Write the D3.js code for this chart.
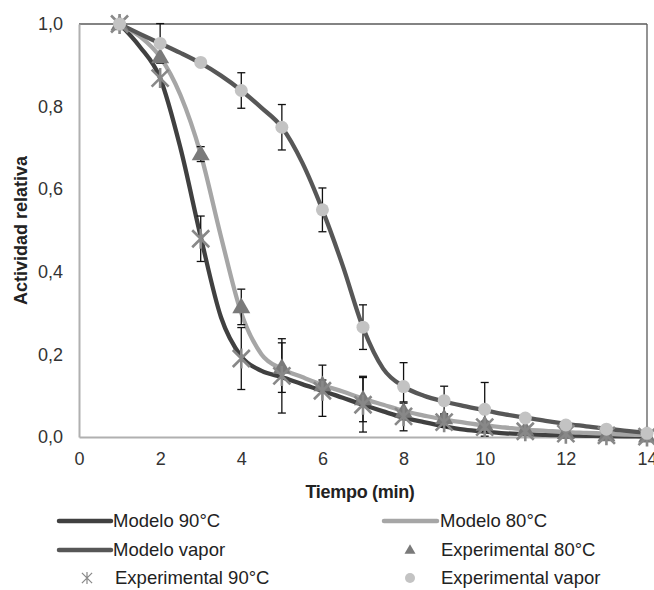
<!DOCTYPE html>
<html>
<head>
<meta charset="utf-8">
<script src="https://cdn.jsdelivr.net/npm/d3@7"></script>
<style>
  html, body { margin: 0; padding: 0; background: #fff; }
  svg { display: block; font-family: "Liberation Sans", Arial, sans-serif; }
</style>
</head>
<body>
<svg id="chart" width="654" height="590"></svg>
<script>
// ---------- data ----------
const timeExp = [1, 2, 3, 4, 5, 6, 7, 8, 9, 10, 11, 12, 13, 14];
const exp90 = [1.0, 0.869, 0.48, 0.19, 0.148, 0.112, 0.078, 0.05, 0.036, 0.024, 0.014, 0.008, 0.004, 0.001];
const err90 = [0, 0.004, 0.055, 0.075, 0.09, 0.062, 0.066, 0.035, 0.012, 0.01, 0.006, 0.004, 0.002, 0.001];
const exp80 = [1.0, 0.92, 0.685, 0.315, 0.168, 0.126, 0.092, 0.062, 0.046, 0.03, 0.018, 0.01, 0.005, 0.002];
const err80 = [0, 0.006, 0.018, 0.043, 0.06, 0.012, 0.055, 0.02, 0.01, 0.008, 0.005, 0.004, 0.003, 0.002];
const expVapor = [1.0, 0.953, 0.907, 0.839, 0.75, 0.55, 0.266, 0.122, 0.088, 0.067, 0.046, 0.029, 0.019, 0.009];
const errVapor = [0, 0.048, 0.005, 0.043, 0.055, 0.053, 0.054, 0.058, 0.035, 0.065, 0.005, 0.004, 0.003, 0.002];

const timeModel = [1, 1.5, 2, 2.5, 3, 3.5, 4, 4.5, 5, 5.5, 6, 6.5, 7, 7.5, 8, 8.5, 9, 9.5, 10, 10.5, 11, 11.5, 12, 12.5, 13, 13.5, 14];
const model90 = [1.0, 0.945, 0.869, 0.70, 0.485, 0.29, 0.195, 0.16, 0.145, 0.128, 0.112, 0.095, 0.078, 0.062, 0.047, 0.036, 0.026, 0.018, 0.013, 0.009, 0.007, 0.005, 0.004, 0.003, 0.002, 0.0015, 0.001];
const model80 = [1.0, 0.97, 0.92, 0.828, 0.685, 0.485, 0.30, 0.20, 0.165, 0.145, 0.126, 0.11, 0.093, 0.078, 0.063, 0.052, 0.042, 0.035, 0.028, 0.023, 0.018, 0.015, 0.012, 0.01, 0.008, 0.006, 0.005];
const modelVapor = [1.0, 0.976, 0.953, 0.93, 0.905, 0.875, 0.839, 0.797, 0.75, 0.665, 0.55, 0.415, 0.265, 0.165, 0.122, 0.1, 0.086, 0.075, 0.065, 0.055, 0.047, 0.039, 0.032, 0.026, 0.02, 0.015, 0.01];

const xTicks = [0, 2, 4, 6, 8, 10, 12, 14];
const yTicks = [0, 0.2, 0.4, 0.6, 0.8, 1.0];
const xTitle = "Tiempo (min)";
const yTitle = "Actividad relativa";
const legendLabels = ["Modelo 90°C", "Modelo 80°C", "Modelo vapor", "Experimental 80°C", "Experimental 90°C", "Experimental vapor"];

// ---------- layout ----------
const svg = d3.select("#chart");
const pLeft = 79, pRight = 647, pTop = 24, pBottom = 437;
const FONT = "Liberation Sans, Arial, sans-serif";

const x = d3.scaleLinear().domain([0, 14]).range([pLeft, pRight]);
const y = d3.scaleLinear().domain([0, 1]).range([pBottom, pTop]);

const col90 = "#404040", col80 = "#a6a6a6", colVap = "#575757";
const colTri = "#7a7a7a", colStar = "#888888", colCirc = "#c3c3c3";

// frame: top and right dark, left and bottom light gray
svg.append("line").attr("x1", pLeft).attr("x2", pRight).attr("y1", pTop).attr("y2", pTop)
  .attr("stroke", "#5a5a5a").attr("stroke-width", 1.3);
svg.append("line").attr("x1", pRight).attr("x2", pRight).attr("y1", pTop).attr("y2", pBottom)
  .attr("stroke", "#5a5a5a").attr("stroke-width", 1.3);

// axes
const xAxis = d3.axisBottom(x).tickValues(xTicks).tickSize(0).tickPadding(15)
  .tickFormat(d => d3.format("d")(d));
const gx = svg.append("g").attr("transform", `translate(0,${pBottom})`).call(xAxis);
gx.select(".domain").attr("stroke", "#b0b0b0").attr("stroke-width", 2);
gx.selectAll("text").attr("font-size", 18).attr("fill", "#333").attr("font-family", FONT);

const yAxis = d3.axisLeft(y).tickValues(yTicks).tickSize(0).tickPadding(16)
  .tickFormat(d => d3.format(".1f")(d).replace(".", ","));
const gy = svg.append("g").attr("transform", `translate(${pLeft},0)`).call(yAxis);
gy.select(".domain").attr("stroke", "#b0b0b0").attr("stroke-width", 2);
gy.selectAll("text").attr("font-size", 18).attr("fill", "#333").attr("font-family", FONT);

// titles
svg.append("text").attr("x", 360).attr("y", 498).attr("text-anchor", "middle")
  .attr("font-size", 18).attr("font-weight", "bold").attr("fill", "#222")
  .attr("letter-spacing", "-0.3").text(xTitle);
svg.append("text").attr("transform", `translate(27,${(pTop + pBottom) / 2}) rotate(-90)`)
  .attr("text-anchor", "middle").attr("font-size", 18).attr("font-weight", "bold")
  .attr("fill", "#222").text(yTitle);

// model lines
const line = d3.line().x(d => x(d[0])).y(d => y(d[1])).curve(d3.curveMonotoneX);
const mkPts = arr => timeModel.map((t, i) => [t, arr[i]]);
const plot = svg.append("g");
[[model90, col90], [model80, col80], [modelVapor, colVap]].forEach(([arr, c]) => {
  plot.append("path").attr("d", line(mkPts(arr))).attr("fill", "none")
    .attr("stroke", c).attr("stroke-width", 4.3).attr("stroke-linejoin", "round");
});

// error bars
function errBars(vals, errs) {
  timeExp.forEach((t, i) => {
    const e = errs[i];
    if (e < 0.008) return;
    const cx = x(t), y1 = y(vals[i] + e), y2 = y(vals[i] - e);
    const g = plot.append("g").attr("stroke", "#111").attr("stroke-width", 1.3);
    g.append("line").attr("x1", cx).attr("x2", cx).attr("y1", y1).attr("y2", y2);
    g.append("line").attr("x1", cx - 4).attr("x2", cx + 4).attr("y1", y1).attr("y2", y1);
    g.append("line").attr("x1", cx - 4).attr("x2", cx + 4).attr("y1", y2).attr("y2", y2);
  });
}
errBars(exp80, err80);
errBars(exp90, err90);
errBars(expVapor, errVapor);

// marker helpers
function triangle(g, cx, cy, w) {
  const h = w * 0.866;
  g.append("path").attr("d", `M${cx},${cy - h * 0.6}L${cx + w / 2},${cy + h * 0.4}L${cx - w / 2},${cy + h * 0.4}Z`)
    .attr("fill", colTri);
}
function star(g, cx, cy, s, sw) {
  const d = s * 0.85;
  g.append("path")
    .attr("d", `M${cx - d},${cy - d}L${cx + d},${cy + d}M${cx + d},${cy - d}L${cx - d},${cy + d}M${cx},${cy - s}L${cx},${cy + s}`)
    .attr("stroke", colStar).attr("stroke-width", sw).attr("fill", "none");
}
function circle(g, cx, cy, r) {
  g.append("circle").attr("cx", cx).attr("cy", cy).attr("r", r).attr("fill", colCirc);
}

const mk = svg.append("g");
timeExp.forEach((t, i) => triangle(mk, x(t), y(exp80[i]), 18));
timeExp.forEach((t, i) => star(mk, x(t), y(exp90[i]), 10, 2.6));
timeExp.forEach((t, i) => circle(mk, x(t), y(expVapor[i]), 6.5));

// legend
const lg = svg.append("g").attr("font-size", 18.5).attr("fill", "#222").attr("font-family", FONT);
function legText(tx, ty, s) {
  lg.append("text").attr("x", tx).attr("y", ty).attr("dy", "0.35em").text(s);
}
function legLine(x1, x2, ly, c) {
  lg.append("line").attr("x1", x1).attr("x2", x2).attr("y1", ly).attr("y2", ly)
    .attr("stroke", c).attr("stroke-width", 4.5).attr("stroke-linecap", "round");
}
const r1 = 521, r2 = 550, r3 = 578;
legLine(59, 111, r1, col90);  legText(113, r1, legendLabels[0]);
legLine(384, 437, r1, col80); legText(440, r1, legendLabels[1]);
legLine(59, 111, r2, colVap); legText(113, r2, legendLabels[2]);
triangle(lg, 410, r2, 11);   legText(441, r2, legendLabels[3]);
star(lg, 87, r3, 6, 1.2);     legText(115, r3, legendLabels[4]);
circle(lg, 410, r3, 5);       legText(441, r3, legendLabels[5]);
</script>
</body>
</html>
